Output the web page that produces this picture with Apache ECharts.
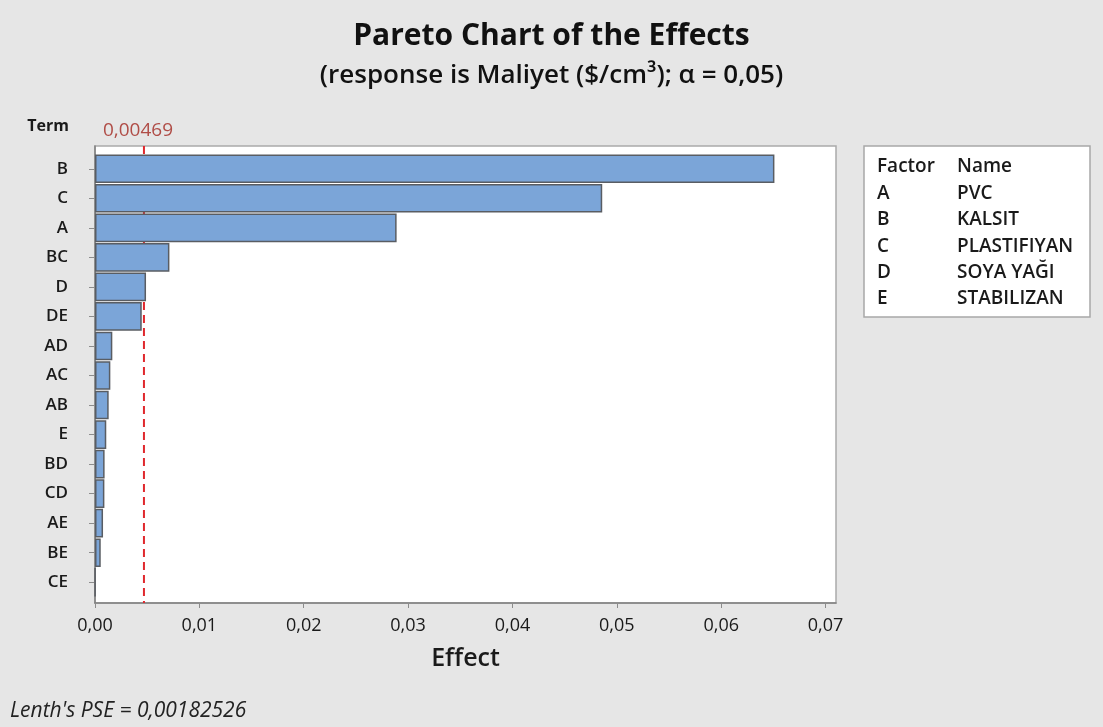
<!DOCTYPE html>
<html>
<head>
<meta charset="utf-8">
<title>Pareto Chart of the Effects</title>
<style>
  html, body { margin: 0; padding: 0; background: #e6e6e6; }
  #chart { width: 1103px; height: 727px; }
</style>
<script src="https://cdn.jsdelivr.net/npm/echarts@6.0.0/dist/echarts.min.js"></script>
</head>
<body>
<div id="chart"></div>
<script>
// Terms sorted by absolute standardized effect (largest first)
const terms = ['B', 'C', 'A', 'BC', 'D', 'DE', 'AD', 'AC', 'AB', 'E', 'BD', 'CD', 'AE', 'BE', 'CE'];
const effects = [0.0651, 0.0486, 0.0289, 0.00713, 0.00489, 0.00448, 0.00166, 0.00147, 0.00131, 0.00108, 0.00092, 0.00090, 0.00077, 0.00055, 0.00002];
// Lenth's critical effect at alpha = 0.05
const criticalEffect = 0.00469;
const effectAxisMin = 0;
const effectAxisMax = 0.071;
const effectAxisStep = 0.01;
// Factor key
const factorCodes = ['A', 'B', 'C', 'D', 'E'];
const factorNames = ['PVC', 'KALSIT', 'PLASTIFIYAN', 'SOYA YAĞI', 'STABILIZAN'];
const lenthPSE = 0.00182526;

const FONT = '"Open Sans", "Noto Sans", sans-serif';
const INK = '#1a1a1a';
const comma = (v, d) => v.toFixed(d).replace('.', ',');

const chart = echarts.init(document.getElementById('chart'), null, { renderer: 'canvas' });

// key box: header row + one row per factor
const keyLeft = 864, keyTop = 146, keyW = 226, keyH = 171;
const rowY0 = 167, rowStep = 26.4;
const keyText = [];
const keyRows = [['Factor', 'Name']].concat(factorCodes.map((c, i) => [c, factorNames[i]]));
keyRows.forEach((r, i) => {
  const y = rowY0 + i * rowStep;
  keyText.push({ type: 'text', x: 877, y: y, style: { text: r[0], font: '600 19px ' + FONT, fill: INK, verticalAlign: 'middle' } });
  keyText.push({ type: 'text', x: 957, y: y, style: { text: r[1], font: '600 19px ' + FONT, fill: INK, verticalAlign: 'middle' } });
});

const option = {
  backgroundColor: '#e6e6e6',
  animation: false,
  textStyle: { fontFamily: FONT },
  title: [
    { text: 'Pareto Chart of the Effects', left: 'center', top: 16,
      textStyle: { fontFamily: FONT, fontSize: 30, fontWeight: 'bold', color: '#111' } },
    { text: '(response is Maliyet ($/cm³); α = 0,05)', left: 'center', top: 58,
      textStyle: { fontFamily: FONT, fontSize: 26, fontWeight: 600, color: '#111' } }
  ],
  grid: [
    // plot frame
    { left: 95, right: 267, top: 146, bottom: 124, show: true, backgroundColor: '#ffffff',
      borderColor: '#ababab', borderWidth: 1.5 },
    // bar bands
    { left: 95, right: 267, top: 154, bottom: 130 }
  ],
  xAxis: [
    { type: 'value', gridIndex: 0, min: effectAxisMin, max: effectAxisMax, interval: effectAxisStep,
      name: 'Effect', nameLocation: 'middle', nameGap: 43,
      nameTextStyle: { fontFamily: FONT, fontSize: 25, fontWeight: 600, color: INK },
      axisLine: { show: true, lineStyle: { color: '#808080', width: 1.5 } },
      axisTick: { show: true, length: 5, lineStyle: { color: '#8c8c8c' } },
      axisLabel: { margin: 14, fontSize: 18, color: INK, showMaxLabel: false,
        formatter: v => comma(v, 2) },
      splitLine: { show: false } },
    { type: 'value', gridIndex: 1, min: effectAxisMin, max: effectAxisMax, show: false }
  ],
  yAxis: [
    { type: 'value', gridIndex: 0, min: 0, max: 1,
      axisLine: { show: true, lineStyle: { color: '#808080', width: 1.5 } },
      axisTick: { show: false }, axisLabel: { show: false }, splitLine: { show: false } },
    { type: 'category', gridIndex: 1, data: terms, inverse: true,
      axisLine: { show: false },
      axisTick: { show: true, alignWithLabel: true, length: 6, lineStyle: { color: '#8c8c8c' } },
      axisLabel: { margin: 27, fontSize: 17, fontWeight: 600, color: INK } }
  ],
  series: [
    // critical effect reference line, drawn top to bottom behind the bars
    { type: 'line', xAxisIndex: 0, yAxisIndex: 0,
      data: [[criticalEffect, 1], [criticalEffect, 0]],
      symbol: 'none', silent: true, z: 1,
      lineStyle: { color: '#e0282d', type: [8, 5], width: 2 } },
    { type: 'scatter', xAxisIndex: 0, yAxisIndex: 0,
      data: [[criticalEffect, 1]], symbolSize: 1, silent: true, z: 1,
      itemStyle: { color: 'rgba(0,0,0,0)' },
      label: { show: true, position: 'top', distance: 5, offset: [-6, 0],
        formatter: () => comma(criticalEffect, 5),
        fontFamily: FONT, fontSize: 19, color: '#a3271f' } },
    { type: 'bar', xAxisIndex: 1, yAxisIndex: 1, data: effects, z: 3,
      barCategoryGap: '3%',
      itemStyle: { color: '#7ba5d8', borderColor: '#595d63', borderWidth: 1.5 } }
  ],
  graphic: [
    { type: 'rect', shape: { x: keyLeft, y: keyTop, width: keyW, height: keyH },
      style: { fill: '#ffffff', stroke: '#a8a8a8', lineWidth: 1.5 } },
    ...keyText,
    { type: 'text', x: 69, y: 126,
      style: { text: 'Term', font: 'bold 16px ' + FONT, fill: INK, align: 'right', verticalAlign: 'middle' } },
    { type: 'text', x: 10, y: 711,
      style: { text: "Lenth's PSE = " + comma(lenthPSE, 8), font: 'italic 21px ' + FONT, fill: '#222', verticalAlign: 'middle' } }
  ]
};

chart.setOption(option);
</script>
</body>
</html>
